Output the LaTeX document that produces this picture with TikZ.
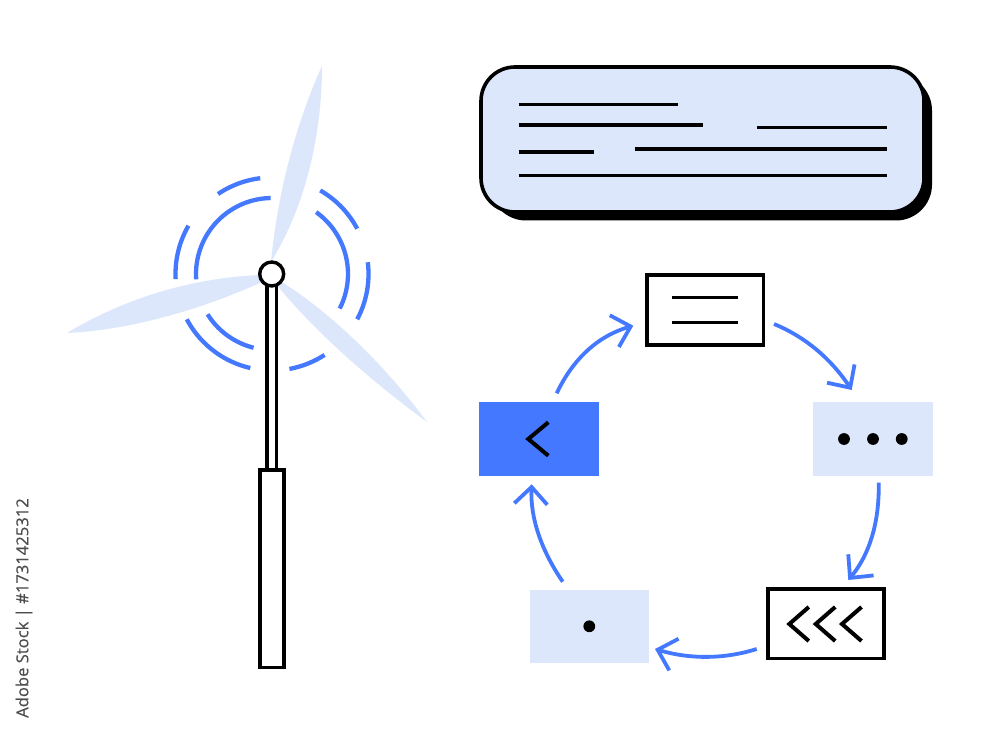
\documentclass[tikz,border=0pt]{standalone}
\usepackage{fontspec}
\setmainfont{Open Sans}
\newfontfamily\sidefont[FakeBold=0.4]{Open Sans}
\usetikzlibrary{arrows.meta,calc}
\definecolor{flowblue}{HTML}{4479FF}
\definecolor{paleblue}{HTML}{DCE7FB}
\definecolor{sidegray}{HTML}{4D4D4D}
\tikzset{
  x=1pt,y=-1pt,
  box/.style={rectangle,inner sep=0pt,outer sep=0pt},
  outlined/.style={box,draw=black,line width=3.6pt,fill=white},
  palebox/.style={box,fill=paleblue},
  bluebox/.style={box,fill=flowblue},
  flow/.style={draw=flowblue,line width=3.8pt,-{Straight Barb[length=17pt,width=33pt,line width=3.8pt]}},
  inkline/.style={line width=3.1pt,draw=black},
  chevron/.style={line width=4pt,draw=black,miter limit=10},
  ring/.style={draw=flowblue,line width=4.3pt},
  blade/.style={fill=paleblue},
  towerline/.style={draw=black,line width=3.6pt,fill=white}
}
\newcommand{\ringarc}[3]{\draw[ring] plot[domain=#1:#2,samples=30,smooth] ({272+#3*cos(\x)},{274-#3*sin(\x)});}
\begin{document}
\begin{tikzpicture}
\useasboundingbox (0,0) rectangle (1000,735);
\fill[white] (0,0) rectangle (1000,735);

% rings
\ringarc{91}{184}{76}
\ringarc{-27}{54.5}{76}
\ringarc{212}{256}{76}
\ringarc{97}{124}{96.5}
\ringarc{150}{183}{96.5}
\ringarc{28}{60}{96.5}
\ringarc{-28}{7}{96.5}
\ringarc{-79.6}{-57}{96.5}
\ringarc{208}{257}{96.5}

% blades
\fill[blade] (271,262) .. controls (277,200) and (293,130) .. (322,66)
  .. controls (322,110) and (315,190) .. (271,262) -- cycle;
\fill[blade] (262,275) .. controls (200,277) and (130,295) .. (67,333)
  .. controls (130,330) and (200,310) .. (262,282) -- cycle;
\fill[blade] (280,281) .. controls (318,304) and (375,352) .. (427,422)
  .. controls (370,380) and (315,332) .. (276,284) -- cycle;

% tower
\node[towerline,box,minimum width=9.5pt,minimum height=186pt] (mast) at (271.6,378) {};
\node[towerline,box,minimum width=23.7pt,minimum height=197.8pt] (base) at (271.85,568.6) {};
\node[draw=black,line width=3.4pt,fill=white,circle,inner sep=0pt,minimum size=24pt] (hub) at (271.7,274) {};

% speech panel
\node[box,fill=black,rounded corners=36pt,minimum width=442pt,minimum height=146pt] (panelshadow) at (711,147.5) {};
\node[box,draw=black,line width=3.6pt,fill=paleblue,rounded corners=34pt,minimum width=443pt,minimum height=145pt] (panel) at (702.5,139.5) {};
\draw[inkline] (518.7,104.3) -- (678,104.3);
\draw[inkline] (518.7,125) -- (703,125);
\draw[inkline] (757.3,127.7) -- (886.7,127.7);
\draw[inkline] (635.3,149) -- (886.7,149);
\draw[inkline] (518.7,152) -- (594,152);
\draw[inkline] (518.7,175.7) -- (886.7,175.7);

% flow boxes
\node[outlined,minimum width=116.3pt,minimum height=70.4pt] (topbox) at (705.35,310) {};
\node[palebox,minimum width=120pt,minimum height=73.4pt] (rightbox) at (873,439) {};
\node[bluebox,minimum width=119.7pt,minimum height=73.4pt] (leftbox) at (539.2,439) {};
\node[outlined,minimum width=116pt,minimum height=69.7pt] (brbox) at (825.8,623.65) {};
\node[palebox,minimum width=119.3pt,minimum height=72.7pt] (blbox) at (589.35,626.35) {};

% box contents
\draw[inkline] (672.3,297.3) -- (738.3,297.3);
\draw[inkline] (672.3,322.7) -- (738.3,322.7);
\fill (844,439) circle[radius=5.9pt];
\fill (873,439) circle[radius=5.9pt];
\fill (901.7,439) circle[radius=5.9pt];
\fill (589.3,626.3) circle[radius=5.9pt];
\draw[chevron] (548.3,422.3) -- (528.3,439) -- (548.3,455.7);
\draw[chevron] (808.8,607) -- (789.3,624) -- (808.8,641);
\draw[chevron] (835.2,607) -- (815.7,624) -- (835.2,641);
\draw[chevron] (861.5,607) -- (842,624) -- (861.5,641);

% connectors
\draw[flow] ($(topbox.center)+(68.65,14)$) .. controls +(31,12.7) and +(-20.8,-31.3) .. ($(rightbox.center)+(-21.3,-49)$);
\draw[flow] ($(rightbox.center)+(5.7,43.7)$) .. controls +(.8,39.5) and +(21.1,-25.3) .. ($(brbox.center)+(22.5,-43.65)$);
\draw[flow] ($(brbox.center)+(-69.1,25.35)$) .. controls +(-32.8,10.3) and +(35,10.3) .. ($(blbox.center)+(65.65,22.65)$);
\draw[flow] ($(blbox.center)+(-26.65,-44.65)$) .. controls +(-22.2,-32.5) and +(-1.5,32.5) .. ($(leftbox.center)+(-7.5,45.3)$);
\draw[flow] ($(leftbox.center)+(17.5,-45.7)$) .. controls +(16.6,-35.2) and +(-34.5,9.9) .. ($(topbox.center)+(-72.05,15.7)$);

% side label
\node[box,rotate=90,text=sidegray,font=\sidefont\fontsize{16.6}{20}\selectfont] (sidelabel) at (24,608) {Adobe Stock | \#1731425312};
\end{tikzpicture}
\end{document}
